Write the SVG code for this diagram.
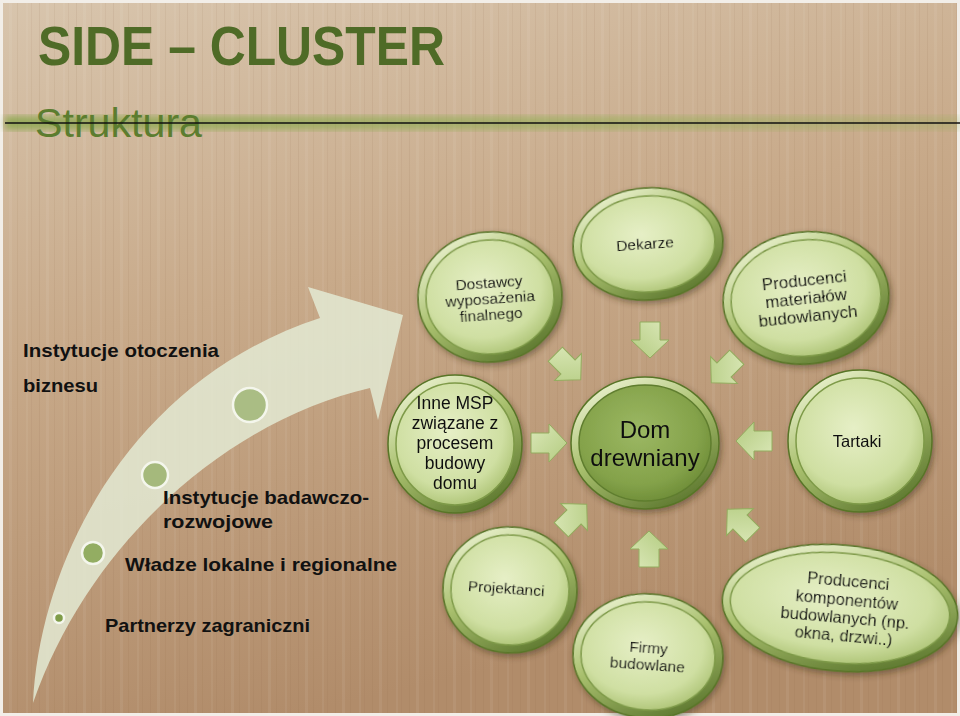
<svg xmlns="http://www.w3.org/2000/svg" width="960" height="716" viewBox="0 0 960 716">
<defs>
<style>
.title{font-family:"Liberation Sans",Arial,sans-serif;font-weight:bold;fill:#4f6b27}
.sub{font-family:"Liberation Sans",Arial,sans-serif;fill:#5c7d2f}
.lbl{font-family:"Liberation Sans",Arial,sans-serif;font-weight:bold;fill:#111}
.nt{font-family:"Liberation Sans",Arial,sans-serif;fill:#111;text-anchor:middle}
.rim{fill:url(#rimGrad);stroke:#587527;stroke-width:1.5}
.face{fill:url(#faceGrad);stroke:#7e9a48;stroke-width:1.5}
.faceD{fill:url(#faceDark);stroke:#5f7d2e;stroke-width:1.5}
.arr{fill:url(#arrGrad);stroke:#93ac5e;stroke-width:1}
.dot{stroke:#f4f6ec;stroke-width:2.5}
</style>
<linearGradient id="bg" x1="0" y1="0" x2="0.3" y2="1">
<stop offset="0" stop-color="#d8c5ad"/>
<stop offset="0.45" stop-color="#c8aa8a"/>
<stop offset="1" stop-color="#b18c6a"/>
</linearGradient>
<pattern id="grain" width="37" height="716" patternUnits="userSpaceOnUse">
<rect x="2" width="1" height="716" fill="#8a6444" opacity="0.10"/>
<rect x="9" width="3" height="716" fill="#ffffff" opacity="0.06"/>
<rect x="17" width="1" height="716" fill="#7a5536" opacity="0.08"/>
<rect x="26" width="2" height="716" fill="#ffffff" opacity="0.05"/>
<rect x="31" width="1" height="716" fill="#7a5536" opacity="0.07"/>
</pattern>
<linearGradient id="rimGrad" x1="0.2" y1="0" x2="0.8" y2="1">
<stop offset="0" stop-color="#eef4d4"/>
<stop offset="0.45" stop-color="#a9c06e"/>
<stop offset="1" stop-color="#57722a"/>
</linearGradient>
<radialGradient id="faceGrad" cx="0.45" cy="0.4" r="0.65">
<stop offset="0" stop-color="#e6efc6"/>
<stop offset="0.7" stop-color="#cfdfa2"/>
<stop offset="1" stop-color="#a9c070"/>
</radialGradient>
<radialGradient id="faceDark" cx="0.45" cy="0.4" r="0.65">
<stop offset="0" stop-color="#9cb863"/>
<stop offset="0.7" stop-color="#84a24a"/>
<stop offset="1" stop-color="#6b8a35"/>
</radialGradient>
<linearGradient id="arrGrad" x1="0" y1="0" x2="1" y2="1">
<stop offset="0" stop-color="#dbe8b8"/>
<stop offset="1" stop-color="#b3cb80"/>
</linearGradient>
<linearGradient id="glow" x1="0" y1="0" x2="1" y2="0">
<stop offset="0" stop-color="#7fa33e" stop-opacity="0.7"/>
<stop offset="0.6" stop-color="#8aae4a" stop-opacity="0.5"/>
<stop offset="1" stop-color="#8aae4a" stop-opacity="0.25"/>
</linearGradient>
<filter id="shadow" x="-20%" y="-20%" width="140%" height="140%">
<feDropShadow dx="2" dy="3" stdDeviation="3" flood-color="#3a2a18" flood-opacity="0.45"/>
</filter>
<filter id="blur2"><feGaussianBlur stdDeviation="3"/></filter>
<polygon id="blk" points="-18,-10 0,-10 0,-19 18,0 0,19 0,10 -18,10"/>
</defs>

<!-- background -->
<rect width="960" height="716" fill="url(#bg)"/>
<rect width="960" height="716" fill="url(#grain)"/>
<rect x="1.5" y="1.5" width="957" height="713" fill="none" stroke="#f2eee8" stroke-width="3"/>

<!-- title -->
<text class="title" x="38" y="65" font-size="55" textLength="407" lengthAdjust="spacingAndGlyphs">SIDE – CLUSTER</text>
<rect x="5" y="116" width="955" height="14" fill="url(#glow)" filter="url(#blur2)"/>
<text class="sub" x="35" y="137" font-size="40" textLength="167" lengthAdjust="spacingAndGlyphs">Struktura</text>
<line x1="5" y1="123" x2="960" y2="123" stroke="#111" stroke-width="1.5"/>

<!-- left curved arrow -->
<g id="curve-arrow">
<path d="M33,703 C40,560 130,380 320,318 L308,287 L403,315 L378,420 L370,388 C230,420 90,540 33,703 Z" fill="#e3ead4" opacity="0.85"/>
<circle class="dot" cx="250" cy="405" r="17" fill="#aabd84"/>
<circle class="dot" cx="155" cy="475" r="13" fill="#a5b97c"/>
<circle class="dot" cx="93" cy="553" r="11" fill="#93ad62"/>
<circle class="dot" cx="59" cy="618" r="5" fill="#7f9c48" stroke-width="1.5"/>
</g>

<g id="left-labels" font-size="19">
<text class="lbl" x="23" y="357" textLength="196" lengthAdjust="spacingAndGlyphs">Instytucje otoczenia</text>
<text class="lbl" x="23" y="392" textLength="75" lengthAdjust="spacingAndGlyphs">biznesu</text>
<text class="lbl" x="163" y="504" textLength="206" lengthAdjust="spacingAndGlyphs">Instytucje badawczo-</text>
<text class="lbl" x="163" y="528" textLength="110" lengthAdjust="spacingAndGlyphs">rozwojowe</text>
<text class="lbl" x="125" y="571" textLength="272" lengthAdjust="spacingAndGlyphs">Władze lokalne i regionalne</text>
<text class="lbl" x="105" y="632" textLength="205" lengthAdjust="spacingAndGlyphs">Partnerzy zagraniczni</text>
</g>

<!-- connectors (block arrows) -->
<g id="connectors">
<use href="#blk" class="arr" transform="translate(650,340) rotate(90)"/>
<use href="#blk" class="arr" transform="translate(568,367) rotate(45)"/>
<use href="#blk" class="arr" transform="translate(724,370) rotate(135)"/>
<use href="#blk" class="arr" transform="translate(549,443)"/>
<use href="#blk" class="arr" transform="translate(754,441) rotate(180)"/>
<use href="#blk" class="arr" transform="translate(574,517) rotate(-45)"/>
<use href="#blk" class="arr" transform="translate(649,549) rotate(-90)"/>
<use href="#blk" class="arr" transform="translate(740,522) rotate(-135)"/>
</g>

<!-- nodes -->
<g id="n-dostawcy" filter="url(#shadow)" transform="translate(490,297) rotate(-4)" font-size="15.5">
<ellipse class="rim" rx="72" ry="65"/>
<ellipse class="face" rx="64" ry="57"/>
<text class="nt" y="-9">Dostawcy</text>
<text class="nt" y="7">wyposażenia</text>
<text class="nt" y="23">finalnego</text>
</g>

<g id="n-dekarze" filter="url(#shadow)" transform="translate(648,244) rotate(-4)" font-size="15.5">
<ellipse class="rim" rx="75" ry="56"/>
<ellipse class="face" rx="67" ry="48"/>
<text class="nt" x="-3" y="5">Dekarze</text>
</g>

<g id="n-producenci-mat" filter="url(#shadow)" transform="translate(806,298) rotate(-6)" font-size="17">
<ellipse class="rim" rx="83" ry="66"/>
<ellipse class="face" rx="75" ry="58"/>
<text class="nt" y="-12">Producenci</text>
<text class="nt" y="6">materiałów</text>
<text class="nt" y="24">budowlanych</text>
</g>

<g id="n-inne" filter="url(#shadow)" transform="translate(455,444)" font-size="17.5">
<ellipse class="rim" rx="67" ry="69"/>
<ellipse class="face" rx="59" ry="61"/>
<text class="nt" y="-35">Inne MSP</text>
<text class="nt" y="-15">związane z</text>
<text class="nt" y="5">procesem</text>
<text class="nt" y="25">budowy</text>
<text class="nt" y="45">domu</text>
</g>

<g id="n-dom" filter="url(#shadow)" transform="translate(645,443)" font-size="24">
<ellipse class="rim" rx="74" ry="66"/>
<ellipse class="faceD" rx="66" ry="58"/>
<text class="nt" y="-5">Dom</text>
<text class="nt" y="23">drewniany</text>
</g>

<g id="n-tartaki" filter="url(#shadow)" transform="translate(860,441)" font-size="16.5">
<ellipse class="rim" rx="72" ry="71"/>
<ellipse class="face" rx="64" ry="63"/>
<text class="nt" x="-3" y="6">Tartaki</text>
</g>

<g id="n-projektanci" filter="url(#shadow)" transform="translate(510,590) rotate(4)" font-size="15.5">
<ellipse class="rim" rx="67" ry="63"/>
<ellipse class="face" rx="59" ry="55"/>
<text class="nt" x="-4" y="4">Projektanci</text>
</g>

<g id="n-firmy" filter="url(#shadow)" transform="translate(648,656) rotate(4)" font-size="15.5">
<ellipse class="rim" rx="75" ry="62"/>
<ellipse class="face" rx="67" ry="54"/>
<text class="nt" y="-3">Firmy</text>
<text class="nt" y="14">budowlane</text>
</g>

<g id="n-producenci-komp" filter="url(#shadow)" transform="translate(840,608) rotate(5)" font-size="16.5">
<ellipse class="rim" rx="118" ry="63"/>
<ellipse class="face" rx="110" ry="55"/>
<text class="nt" x="6" y="-22">Producenci</text>
<text class="nt" x="6" y="-3">komponentów</text>
<text class="nt" x="6" y="15">budowlanych (np.</text>
<text class="nt" x="6" y="33">okna, drzwi..)</text>
</g>
</svg>
